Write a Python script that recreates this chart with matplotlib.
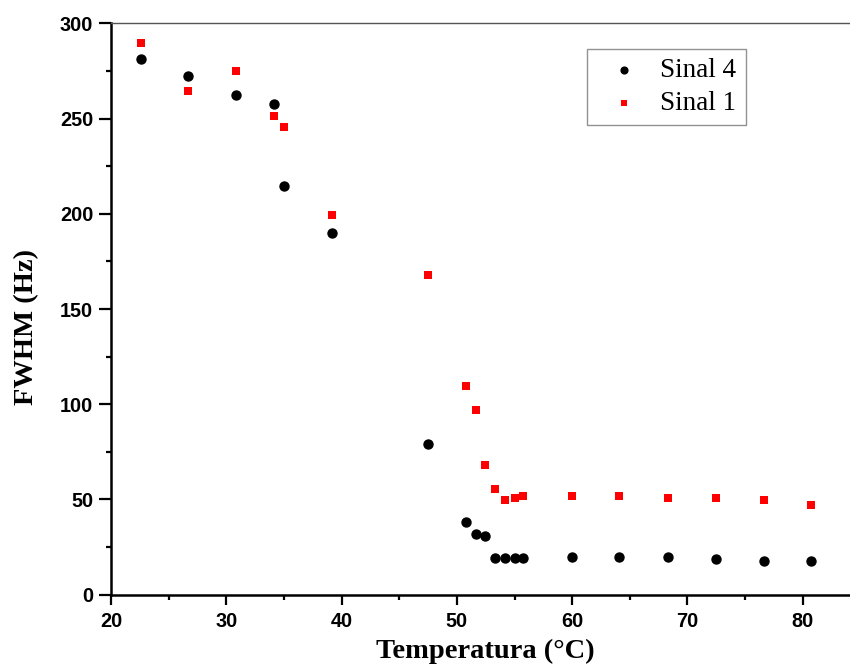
import matplotlib

matplotlib.use("Agg")
import matplotlib.pyplot as plt
from matplotlib.ticker import MultipleLocator

temp = [22.6, 26.7, 30.8, 34.1, 35.0, 39.2, 47.5, 50.8, 51.7, 52.4,
        53.3, 54.2, 55.0, 55.7, 60.0, 64.1, 68.3, 72.5, 76.6, 80.7]
sinal4 = [281.4, 272.4, 262.4, 257.5, 214.4, 189.9, 79.0, 38.0, 31.8, 30.6,
          19.4, 19.4, 19.4, 19.5, 19.6, 19.6, 19.8, 19.0, 17.5, 17.6]
sinal1 = [289.7, 264.5, 275.3, 251.4, 245.6, 199.4, 167.9, 109.6, 97.0, 68.2,
          55.6, 49.5, 50.6, 51.7, 51.7, 51.9, 50.9, 50.8, 49.6, 47.3]

fig = plt.figure(figsize=(8.5, 6.67), dpi=100)
ax = fig.add_axes([0.1306, 0.1084, 0.8694, 0.8564])

ax.scatter(temp, sinal4, s=42, marker="o", color="black", label="Sinal 4", zorder=3)
ax.scatter(temp, sinal1, s=32, marker="s", color="#ff0000", linewidths=0,
           label="Sinal 1", zorder=3)

ax.set_xlim(20, 84.1)
ax.set_ylim(0, 300)
ax.xaxis.set_major_locator(MultipleLocator(10))
ax.xaxis.set_minor_locator(MultipleLocator(5))
ax.yaxis.set_major_locator(MultipleLocator(50))
ax.yaxis.set_minor_locator(MultipleLocator(25))

ax.spines["right"].set_visible(False)
ax.spines["top"].set_color("#555555")
ax.spines["top"].set_linewidth(1.0)
for side in ("left", "bottom"):
    ax.spines[side].set_linewidth(1.8)
ax.tick_params(axis="y", which="major", direction="out", length=8.5, width=1.6, pad=4.3)
ax.tick_params(axis="x", which="major", direction="out", length=7, width=1.6, pad=5.5)
ax.tick_params(which="minor", direction="out", length=3.5, width=1.6)
ax.tick_params(top=False, right=False, which="both")
for lab in ax.get_xticklabels() + ax.get_yticklabels():
    lab.set_fontfamily("Liberation Sans")
    lab.set_fontweight("bold")
    lab.set_fontsize(14.3)

ax.set_xlabel("Temperatura (°C)", family="Liberation Serif", weight="bold",
              fontsize=20.5)
ax.set_ylabel("FWHM (Hz)", family="Liberation Serif", weight="bold",
              fontsize=20.5)
ax.xaxis.set_label_coords(0.507, -0.078)
ax.yaxis.set_label_coords(-0.097, 0.468)

leg = ax.legend(loc="upper left", bbox_to_anchor=(0.644, 0.9557), borderaxespad=0,
                frameon=True, fancybox=False, edgecolor="#777777",
                handlelength=2.05, handletextpad=0.3, borderpad=0.35,
                labelspacing=0.28, markerscale=0.75,
                prop={"family": "Liberation Serif", "size": 19.5})
leg.get_frame().set_linewidth(1.0)

fig.savefig("out.png", dpi=100)
